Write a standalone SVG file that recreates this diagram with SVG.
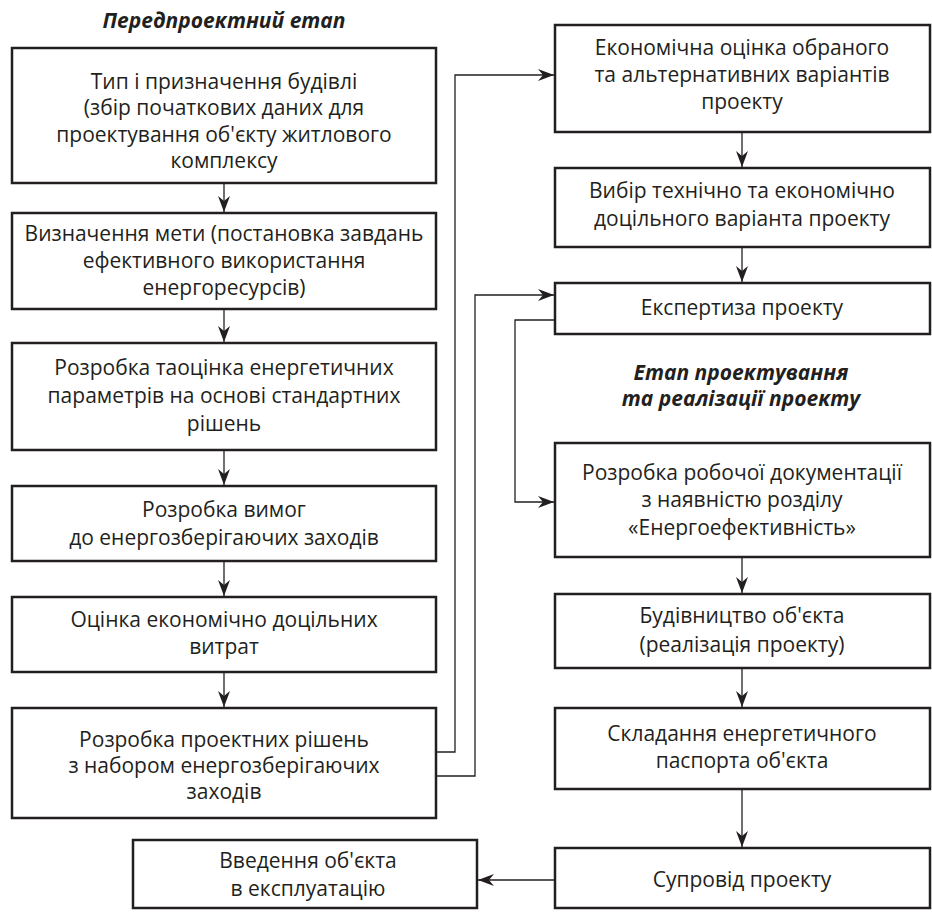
<svg xmlns="http://www.w3.org/2000/svg" width="932" height="912" viewBox="0 0 932 912">
<defs>
<marker id="arr" viewBox="0 0 16 12" refX="16" refY="6" markerWidth="16" markerHeight="12" markerUnits="userSpaceOnUse" orient="auto">
<path d="M0,0 L16,6 L0,12 L5,6 Z" fill="#231f20"/>
</marker>
<style>
.box{fill:#fff;stroke:#231f20;stroke-width:2.5}
.t{font-family:"Open Sans","Noto Sans",sans-serif;font-size:21px;fill:#231f20;text-anchor:middle}
.h{font-family:"Open Sans","Noto Sans",sans-serif;font-size:21px;font-weight:bold;font-style:italic;fill:#231f20;text-anchor:middle}
.c{fill:none;stroke:#231f20;stroke-width:1.3;marker-end:url(#arr)}
</style>
</defs>
<rect width="932" height="912" fill="#fff"/>
<text class="h" x="224" y="28">Передпроектний етап</text>
<text class="h" x="741" y="380">Етап проектування</text>
<text class="h" x="741" y="406">та реалізації проекту</text>

<g id="connectors">
<path class="c" d="M224,183 V212"/>
<path class="c" d="M224,309 V342"/>
<path class="c" d="M224,450 V485"/>
<path class="c" d="M224,561 V596"/>
<path class="c" d="M224,672 V707"/>
<path class="c" d="M742,132 V167"/>
<path class="c" d="M742,247 V282"/>
<path class="c" d="M742,557 V593"/>
<path class="c" d="M742,668 V707"/>
<path class="c" d="M742,789 V847"/>
<path class="c" d="M436,752 H455 V75 H554"/>
<path class="c" d="M436,776 H475 V295 H554"/>
<path class="c" d="M555,320 H515 V502 H554"/>
<path class="c" d="M555,880 H478"/>
</g>

<g id="n1"><rect class="box" x="12" y="48" width="424" height="135"/>
<text class="t" x="224" y="89">Тип і призначення будівлі</text>
<text class="t" x="224" y="115">(збір початкових даних для</text>
<text class="t" x="224" y="142">проектування об'єкту житлового</text>
<text class="t" x="224" y="168">комплексу</text></g>

<g id="n2"><rect class="box" x="12" y="213" width="424" height="96"/>
<text class="t" x="224" y="241">Визначення мети (постановка завдань</text>
<text class="t" x="224" y="268">ефективного використання</text>
<text class="t" x="224" y="295">енергоресурсів)</text></g>

<g id="n3"><rect class="box" x="12" y="343" width="424" height="107"/>
<text class="t" x="224" y="375">Розробка таоцінка енергетичних</text>
<text class="t" x="224" y="403">параметрів на основі стандартних</text>
<text class="t" x="224" y="431">рішень</text></g>

<g id="n4"><rect class="box" x="12" y="486" width="424" height="75"/>
<text class="t" x="224" y="517">Розробка вимог</text>
<text class="t" x="224" y="545">до енергозберігаючих заходів</text></g>

<g id="n5"><rect class="box" x="12" y="597" width="424" height="75"/>
<text class="t" x="224" y="627">Оцінка економічно доцільних</text>
<text class="t" x="224" y="654">витрат</text></g>

<g id="n6"><rect class="box" x="12" y="708" width="424" height="110"/>
<text class="t" x="224" y="747">Розробка проектних рішень</text>
<text class="t" x="224" y="773">з набором енергозберігаючих</text>
<text class="t" x="224" y="799">заходів</text></g>

<g id="n7"><rect class="box" x="133" y="840" width="344" height="68"/>
<text class="t" x="308" y="868">Введення об'єкта</text>
<text class="t" x="308" y="896">в експлуатацію</text></g>

<g id="r1"><rect class="box" x="555" y="25" width="375" height="107"/>
<text class="t" x="742" y="55">Економічна оцінка обраного</text>
<text class="t" x="742" y="82">та альтернативних варіантів</text>
<text class="t" x="742" y="109">проекту</text></g>

<g id="r2"><rect class="box" x="555" y="168" width="375" height="79"/>
<text class="t" x="742" y="198">Вибір технічно та економічно</text>
<text class="t" x="742" y="226">доцільного варіанта проекту</text></g>

<g id="r3"><rect class="box" x="555" y="283" width="375" height="51"/>
<text class="t" x="742" y="315">Експертиза проекту</text></g>

<g id="r4"><rect class="box" x="555" y="443" width="375" height="114"/>
<text class="t" x="742" y="480">Розробка робочої документації</text>
<text class="t" x="742" y="507">з наявністю розділу</text>
<text class="t" x="742" y="535">«Енергоефективність»</text></g>

<g id="r5"><rect class="box" x="555" y="594" width="375" height="74"/>
<text class="t" x="742" y="623">Будівництво об'єкта</text>
<text class="t" x="742" y="652">(реалізація проекту)</text></g>

<g id="r6"><rect class="box" x="555" y="708" width="375" height="81"/>
<text class="t" x="742" y="741">Складання енергетичного</text>
<text class="t" x="742" y="768">паспорта об'єкта</text></g>

<g id="r7"><rect class="box" x="555" y="848" width="375" height="60"/>
<text class="t" x="742" y="887">Супровід проекту</text></g>
</svg>
